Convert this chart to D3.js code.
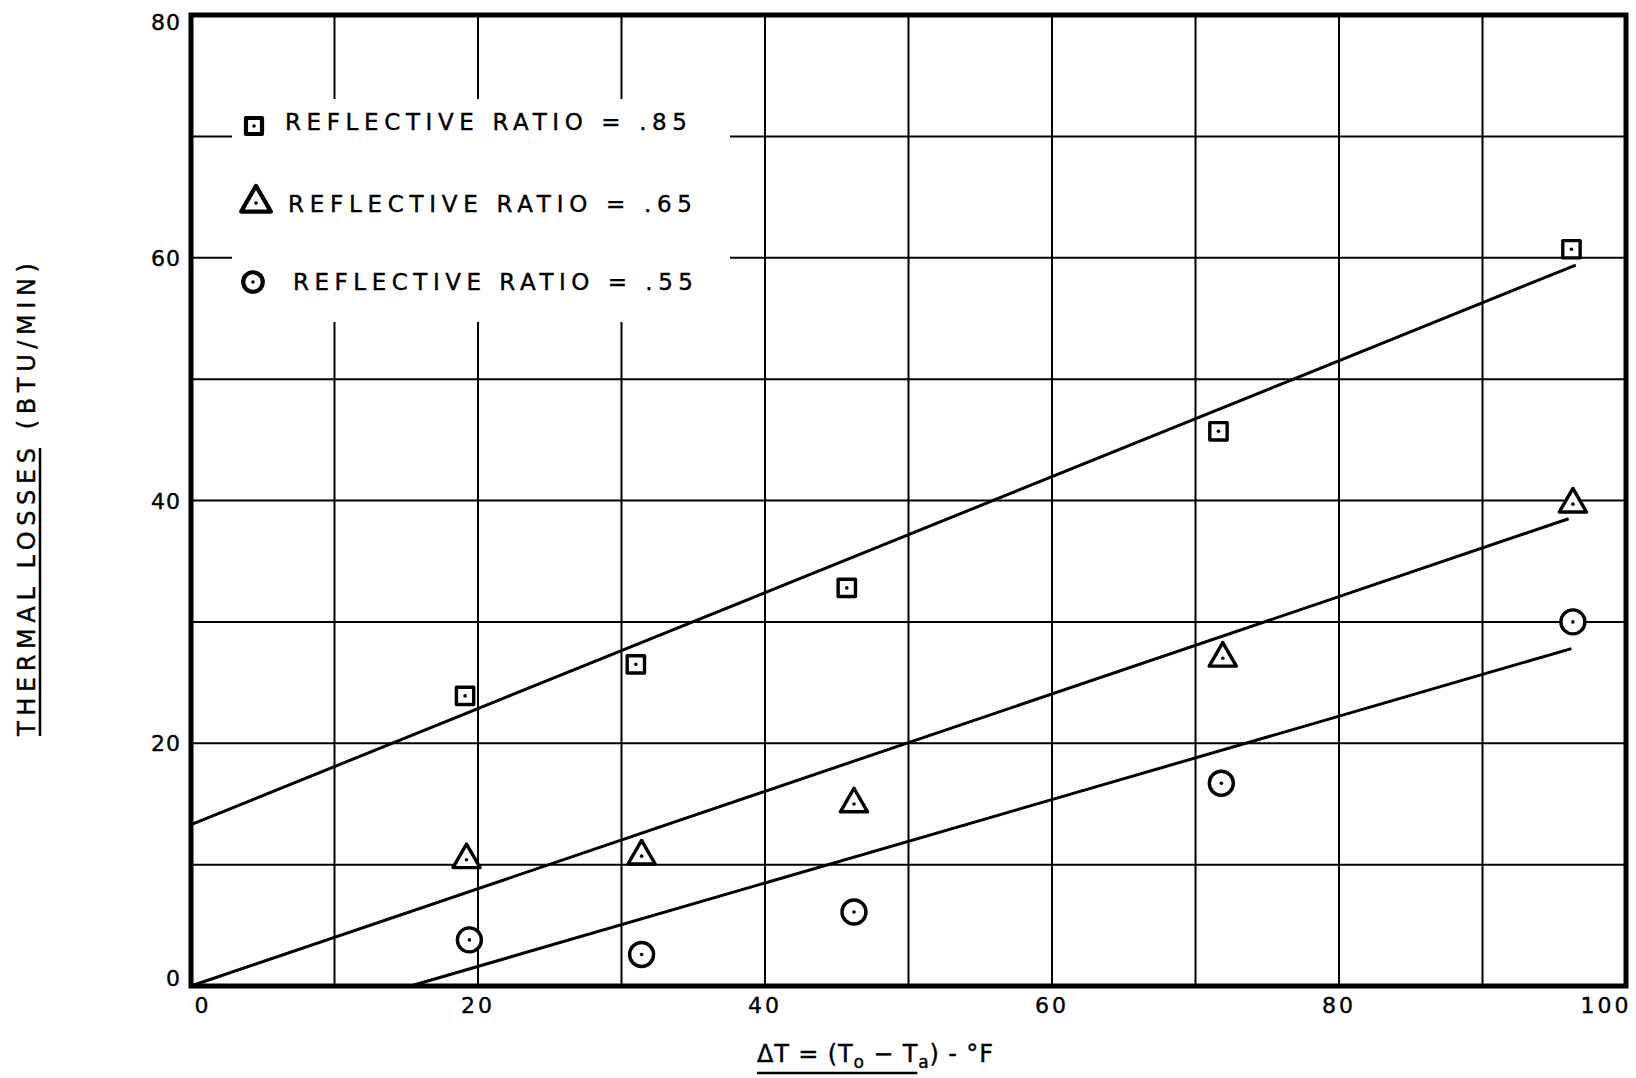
<!DOCTYPE html>
<html>
<head>
<meta charset="utf-8">
<script src="https://cdn.jsdelivr.net/npm/d3@7"></script>
<style>
  body { margin: 0; background: #fff; }
  svg { display: block; }
  text { font-family: "DejaVu Sans", sans-serif; fill: #000; stroke: #000; stroke-width: 0.4; }
</style>
</head>
<body>
<div id="chart"></div>
<script>
// values
var deltaT85 = [19.1, 31.0, 45.7, 71.6, 96.2];
var loss85 = [23.9, 26.5, 32.8, 45.7, 60.7];
var deltaT65 = [19.2, 31.4, 46.2, 71.9, 96.3];
var loss65 = [10.4, 10.7, 15.0, 27.0, 39.7];
var deltaT55 = [19.4, 31.4, 46.2, 71.8, 96.3];
var loss55 = [3.8, 2.6, 6.1, 16.7, 30.0];

// hand drawn fit lines, [start, end] as [deltaT, loss]
var fit85 = [[0, 13.3], [96.5, 59.4]];
var fit65 = [[0, 0], [96.0, 38.5]];
var fit55 = [[15.3, 0], [96.2, 27.8]];

var xTicks = [0, 20, 40, 60, 80, 100];
var yTicks = [0, 20, 40, 60, 80];
var xGrid = [10, 20, 30, 40, 50, 60, 70, 80, 90];
var yGrid = [10, 20, 30, 40, 50, 60, 70];

var legendLabels = ["REFLECTIVE RATIO = .85", "REFLECTIVE RATIO = .65", "REFLECTIVE RATIO = .55"];

var w = 1636,
  h = 1078;

var svg = d3
  .select("#chart")
  .append("svg")
  .attr("width", w)
  .attr("height", h);

var x = d3.scaleLinear().domain([0, 100]).range([191, 1626]);
var y = d3.scaleLinear().domain([0, 80]).range([986, 15]);

// grid
var grid = svg.append("g").attr("stroke", "#000").attr("stroke-width", 2);
grid
  .selectAll(".vgrid")
  .data(xGrid)
  .enter()
  .append("line")
  .attr("x1", function(d) { return x(d); })
  .attr("x2", function(d) { return x(d); })
  .attr("y1", y(80))
  .attr("y2", y(0));
grid
  .selectAll(".hgrid")
  .data(yGrid)
  .enter()
  .append("line")
  .attr("x1", x(0))
  .attr("x2", x(100))
  .attr("y1", function(d) { return y(d); })
  .attr("y2", function(d) { return y(d); });

// the legend sits on a blank patch of the grid
var legend = svg.append("g");
legend
  .append("rect")
  .attr("x", 232)
  .attr("y", 99)
  .attr("width", 498)
  .attr("height", 223)
  .attr("fill", "#fff");

// frame
svg
  .append("rect")
  .attr("x", x(0))
  .attr("y", y(80))
  .attr("width", x(100) - x(0))
  .attr("height", y(0) - y(80))
  .attr("fill", "none")
  .attr("stroke", "#000")
  .attr("stroke-width", 5);

// fit lines
var line = d3
  .line()
  .x(function(d) { return x(d[0]); })
  .y(function(d) { return y(d[1]); });

svg
  .append("g")
  .selectAll("path")
  .data([fit85, fit65, fit55])
  .enter()
  .append("path")
  .attr("d", line)
  .attr("fill", "none")
  .attr("stroke", "#000")
  .attr("stroke-width", 3);

// markers
var series = [
  { xs: deltaT85, ys: loss85, type: d3.symbolSquare, size: 300 },
  { xs: deltaT65, ys: loss65, type: d3.symbolTriangle, size: 320 },
  { xs: deltaT55, ys: loss55, type: d3.symbolCircle, size: 452 }
];

function drawMarker(g, type, size, sw) {
  g.append("path")
    .attr("d", d3.symbol().type(type).size(size)())
    .attr("fill", "#fff")
    .attr("stroke", "#000")
    .attr("stroke-width", sw)
    .attr("stroke-linejoin", "round");
  g.append("circle").attr("r", 1.8).attr("fill", "#000");
}

series.forEach(function(s) {
  s.xs.forEach(function(v, i) {
    var g = svg
      .append("g")
      .attr("transform", "translate(" + x(v) + "," + y(s.ys[i]) + ")");
    drawMarker(g, s.type, s.size, 3.4);
  });
});

// legend entries
var legendRows = [
  { mx: 254, my: 126, tx: 285, ty: 130, len: 402, type: d3.symbolSquare, size: 256 },
  { mx: 256, my: 203, tx: 288, ty: 212, len: 404, type: d3.symbolTriangle, size: 380 },
  { mx: 253, my: 282, tx: 293, ty: 290, len: 400, type: d3.symbolCircle, size: 300 }
];
legendRows.forEach(function(r, i) {
  var g = legend.append("g").attr("transform", "translate(" + r.mx + "," + r.my + ")");
  drawMarker(g, r.type, r.size, 4.2);
  legend
    .append("text")
    .attr("x", r.tx)
    .attr("y", r.ty)
    .attr("font-size", 23)
    .attr("textLength", r.len)
    .attr("lengthAdjust", "spacing")
    .text(legendLabels[i]);
});

// tick labels
svg
  .append("g")
  .selectAll("text")
  .data(xTicks)
  .enter()
  .append("text")
  .attr("x", function(d) { return Math.min(Math.max(x(d), 203), 1606); })
  .attr("y", 1013)
  .attr("text-anchor", "middle")
  .attr("font-size", 22)
  .attr("letter-spacing", 3)
  .text(function(d) { return d; });

svg
  .append("g")
  .selectAll("text")
  .data(yTicks)
  .enter()
  .append("text")
  .attr("x", 181)
  .attr("y", function(d) { return Math.min(Math.max(y(d), 22), 978) + 8; })
  .attr("text-anchor", "end")
  .attr("font-size", 22)
  .attr("letter-spacing", 1)
  .text(function(d) { return d; });

// y title, "THERMAL LOSSES" underlined
var yTitle = svg
  .append("g")
  .attr("transform", "translate(35,499.5) rotate(-90)");
var yText = yTitle
  .append("text")
  .attr("text-anchor", "middle")
  .attr("font-size", 24)
  .attr("textLength", 473)
  .attr("lengthAdjust", "spacing")
  .text("THERMAL LOSSES (BTU/MIN)");
var yNode = yText.node();
yTitle
  .append("line")
  .attr("x1", yNode.getStartPositionOfChar(0).x)
  .attr("x2", yNode.getEndPositionOfChar(13).x)
  .attr("y1", 5)
  .attr("y2", 5)
  .attr("stroke", "#000")
  .attr("stroke-width", 2.5);

// x title
var xText = svg
  .append("text")
  .attr("x", 757)
  .attr("y", 1062)
  .attr("font-size", 24)
  .attr("textLength", 236)
  .attr("lengthAdjust", "spacing");
xText.append("tspan").text("\u0394T = (T");
xText.append("tspan").attr("font-size", 17).attr("dy", 6).text("o");
xText.append("tspan").attr("dy", -6).text(" \u2212 T");
xText.append("tspan").attr("font-size", 17).attr("dy", 6).text("a");
xText.append("tspan").attr("dy", -6).text(") - \u00B0F");
var xNode = xText.node();
svg
  .append("line")
  .attr("x1", xNode.getStartPositionOfChar(0).x)
  .attr("x2", xNode.getEndPositionOfChar(11).x)
  .attr("y1", 1073)
  .attr("y2", 1073)
  .attr("stroke", "#000")
  .attr("stroke-width", 2.5);
</script>
</body>
</html>
